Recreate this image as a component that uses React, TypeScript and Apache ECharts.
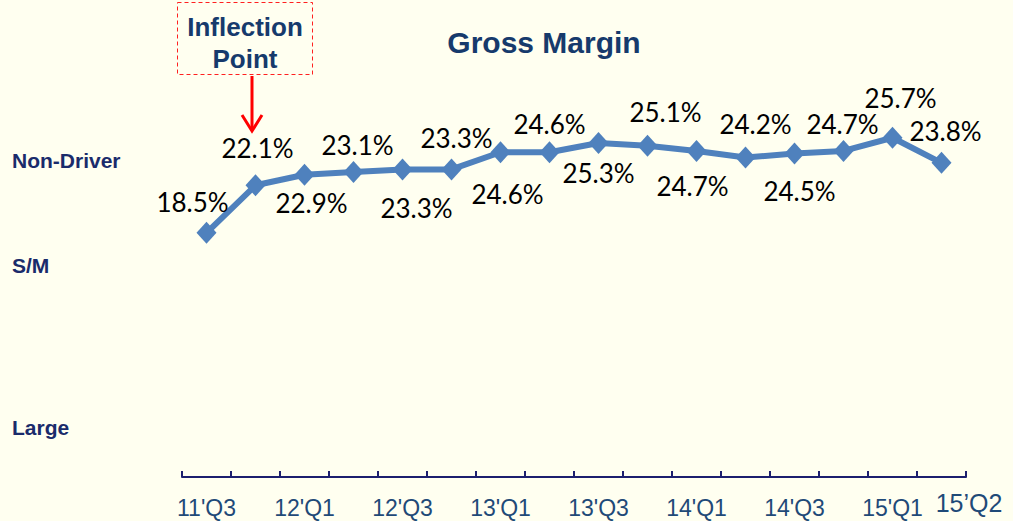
import React, { useEffect, useRef } from "react";
import * as echarts from "echarts";

const categories = [
  "11'Q3", "11'Q4", "12'Q1", "12'Q2", "12'Q3", "12'Q4", "13'Q1", "13'Q2",
  "13'Q3", "13'Q4", "14'Q1", "14'Q2", "14'Q3", "14'Q4", "15'Q1", "15'Q2",
];
const grossMargin = [
  18.5, 22.1, 22.9, 23.1, 23.3, 23.3, 24.6, 24.6,
  25.3, 25.1, 24.7, 24.2, 24.5, 24.7, 25.7, 23.8,
];
const segmentLabels = ["Non-Driver", "S/M", "Large"];
const lastCategoryLabel = "15\u2019Q2";
const titleText = "Gross Margin";
const calloutLines = ["Inflection", "Point"];

// label placement offsets (text centre relative to marker), styling only
const labelOffsets: [number, number][] = [
  [-14, -31], [2, -37], [7, 28], [4, -27], [14, 39], [5, -31], [7, 42], [0, -28],
  [0, 30], [18, -34], [-4, 35], [10, -34], [5, 37], [-1, -27], [8, -40], [4, -32],
];

const NAVY = "#163a6c";
const LEFT_NAVY = "#1a2b6b";
const AXIS_NAVY = "#1c1f6e";
const BLUE = "#4f81bd";
const BG = "#fffff0";

export default function App() {
  const ref = useRef<HTMLDivElement>(null);
  useEffect(() => {
    if (!ref.current) return;
    const chart = echarts.init(ref.current, null, { renderer: "svg" });
    const seriesData = grossMargin.map((v, i) => ({
      value: v,
      label: { offset: labelOffsets[i] },
    }));
    chart.setOption({
      animation: false,
      backgroundColor: BG,
      grid: { left: 182, right: 47, top: 81, bottom: 44 },
      xAxis: {
        type: "category",
        data: categories,
        boundaryGap: true,
        axisLine: { show: true, lineStyle: { color: AXIS_NAVY, width: 2 } },
        axisTick: {
          show: true,
          inside: true,
          length: 6,
          interval: 0,
          lineStyle: { color: AXIS_NAVY, width: 2 },
        },
        axisLabel: {
          interval: (i: number) => i % 2 === 0,
          color: "#1f4a78",
          fontSize: 23,
          fontFamily: "Liberation Sans, Arial, sans-serif",
          margin: 19,
        },
        splitLine: { show: false },
      },
      yAxis: {
        type: "value",
        min: 0,
        max: 30,
        show: false,
        splitLine: { show: false },
      },
      series: [
        {
          type: "line",
          data: seriesData,
          symbol: "diamond",
          symbolSize: [20, 22],
          lineStyle: { color: BLUE, width: 6 },
          itemStyle: { color: BLUE },
          label: {
            show: true,
            position: "inside",
            formatter: (p: any) => Number(p.value).toFixed(1) + "%",
            color: "#000",
            fontSize: 26,
            fontFamily: "Lato, 'Open Sans', sans-serif",
          },
        },
      ],
      graphic: [
        {
          type: "text",
          x: 544,
          y: 42,
          style: {
            text: titleText,
            textAlign: "center",
            textVerticalAlign: "middle",
            fill: NAVY,
            font: "bold 30px 'Liberation Sans', Arial, sans-serif",
          },
        },
        ...segmentLabels.map((t, i) => ({
          type: "text",
          x: 12,
          y: [160, 265, 427][i],
          style: {
            text: t,
            textAlign: "left",
            textVerticalAlign: "middle",
            fill: LEFT_NAVY,
            font: "bold 21px 'Liberation Sans', Arial, sans-serif",
          },
        })),
        {
          type: "text",
          x: 969,
          y: 503,
          style: {
            text: lastCategoryLabel,
            textAlign: "center",
            textVerticalAlign: "middle",
            fill: "#1f4a78",
            font: "25px 'Liberation Sans', Arial, sans-serif",
          },
        },
        {
          type: "rect",
          shape: { x: 177.5, y: 2.5, width: 135, height: 72 },
          style: { fill: "none", stroke: "#ff2020", lineWidth: 1, lineDash: [4, 3] },
        },
        ...calloutLines.map((t, i) => ({
          type: "text",
          x: 245,
          y: [27, 59][i],
          style: {
            text: t,
            textAlign: "center",
            textVerticalAlign: "middle",
            fill: NAVY,
            font: "bold 26px 'Liberation Sans', Arial, sans-serif",
          },
        })),
        {
          type: "line",
          shape: { x1: 252, y1: 76, x2: 252, y2: 130 },
          style: { stroke: "#ff0000", lineWidth: 3 },
        },
        {
          type: "polyline",
          shape: { points: [[242, 115], [252, 131], [262, 115]] },
          style: { stroke: "#ff0000", lineWidth: 3, fill: "none" },
        },
      ],
    });
    return () => chart.dispose();
  }, []);
  return (
    <div
      ref={ref}
      style={{ position: "absolute", left: 0, top: 0, width: 1013, height: 521, background: BG }}
    />
  );
}
